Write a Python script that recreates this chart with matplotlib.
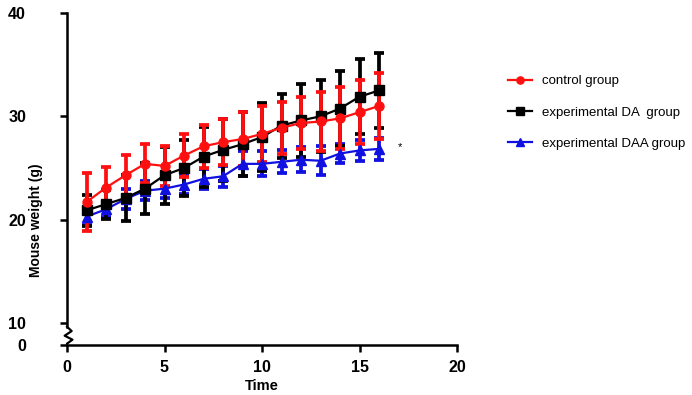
import numpy as np
import matplotlib
matplotlib.use("Agg")
import matplotlib.pyplot as plt

plt.rcParams['font.family'] = ['Liberation Sans', 'DejaVu Sans']

time = [1, 2, 3, 4, 5, 6, 7, 8, 9, 10, 11, 12, 13, 14, 15, 16]

control = [21.7, 23.1, 24.3, 25.4, 25.2, 26.2, 27.1, 27.5,
           27.8, 28.3, 28.9, 29.35, 29.5, 29.8, 30.4, 31.0]
control_sd = [2.8, 2.0, 2.0, 1.9, 1.9, 2.1, 2.1, 2.2,
              2.6, 2.7, 2.5, 2.5, 2.9, 3.0, 3.1, 3.2]

da = [20.9, 21.5, 22.1, 23.0, 24.3, 25.0, 26.1, 26.75,
      27.3, 28.0, 29.1, 29.6, 30.0, 30.75, 31.9, 32.5]
da_sd = [1.5, 1.4, 2.2, 2.5, 2.75, 2.7, 2.9, 3.0,
         3.1, 3.3, 3.1, 3.5, 3.5, 3.6, 3.6, 3.6]

daa = [20.3, 21.0, 22.0, 22.8, 23.0, 23.4, 23.95, 24.2,
       25.4, 25.4, 25.6, 25.8, 25.7, 26.4, 26.7, 26.85]
daa_sd = [0.8, 0.7, 1.0, 0.9, 0.9, 0.9, 1.0, 1.0,
          1.2, 1.2, 1.1, 1.2, 1.4, 0.9, 1.0, 1.1]

labels = ['control group', 'experimental DA  group', 'experimental DAA group']
x_ticks = [0, 5, 10, 15, 20]
y_ticks = [0, 10, 20, 30, 40]


# squeeze the 0-10 part of the y axis (axis break)
def fwd(y):
    y = np.asarray(y, dtype=float)
    return np.where(y >= 10, y, 10 - (10 - y) * 0.213)


def inv(y):
    y = np.asarray(y, dtype=float)
    return np.where(y >= 10, y, 10 - (10 - y) / 0.213)


fig = plt.figure(figsize=(6.92, 3.95), dpi=100)
ax = fig.add_axes([67 / 692, 1 - 345 / 395, 390 / 692, 332 / 395])
ax.set_yscale('function', functions=(fwd, inv))

style = dict(lw=1.6, elinewidth=2.7, capsize=3.5, capthick=2.7, markersize=6.5)
h3 = ax.errorbar(time, daa, yerr=daa_sd, color='#1010e0', marker='^', **style)
h2 = ax.errorbar(time, da, yerr=da_sd, color='black', marker='s', **style)
h1 = ax.errorbar(time, control, yerr=control_sd, color='#ff1010', marker='o', **style)

ax.text(17.1, 27.0, '*', fontsize=8, ha='center', va='center')

ax.set_xlim(0, 20)
ax.set_ylim(0, 40)
ax.set_xticks(x_ticks)
ax.set_yticks(y_ticks)
ax.tick_params(axis='both', width=1.8, length=5, labelsize=11.5)
ax.tick_params(axis='x', pad=6)
ax.tick_params(axis='y', pad=24.5)
for t in ax.get_xticklabels() + ax.get_yticklabels():
    t.set_fontweight('bold')

ax.spines['top'].set_visible(False)
ax.spines['right'].set_visible(False)
ax.spines['left'].set_visible(False)
ax.spines['bottom'].set_linewidth(1.8)

# left spine with zigzag break
ax.plot([0, 0], [1.0, 0.055], transform=ax.transAxes, color='black', lw=1.8, clip_on=False)
ax.plot([0, 0.012, -0.006, 0.014, 0.0, 0.0],
        [0.055, 0.042, 0.028, 0.016, 0.004, 0.0],
        transform=ax.transAxes, color='black', lw=1.6, clip_on=False)

ax.set_xlabel('Time', fontsize=10.5, fontweight='bold', labelpad=3)
ax.set_ylabel('Mouse weight (g)', fontsize=10, fontweight='bold')
ax.yaxis.set_label_coords(-0.062, 0.376)

ax.legend([h1.lines[0], h2.lines[0], h3.lines[0]], labels,
          loc='upper left', bbox_to_anchor=(508 / 692, 1 - 75 / 395),
          bbox_transform=fig.transFigure, frameon=False, fontsize=9.5,
          handlelength=1.8, handletextpad=0.8, labelspacing=1.45,
          borderpad=0, borderaxespad=0, markerscale=0.8)

fig.savefig('out.png', dpi=100)
